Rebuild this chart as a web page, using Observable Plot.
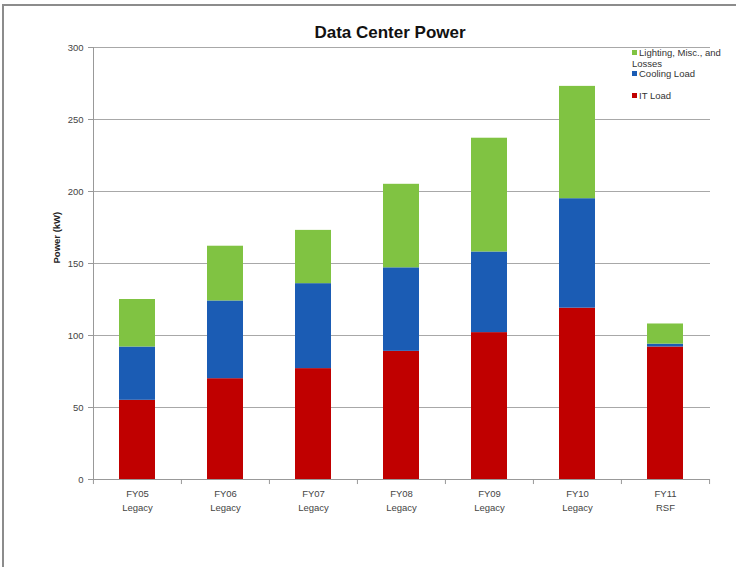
<!DOCTYPE html>
<html><head><meta charset="utf-8">
<script src="https://cdn.jsdelivr.net/npm/d3@7"></script>
<script src="https://cdn.jsdelivr.net/npm/@observablehq/plot@0.6"></script>
<style>
body{margin:0;background:#fff;font-family:"Liberation Sans",Arial,sans-serif;}
#wrap{position:relative;width:736px;height:567px;overflow:hidden;background:#fff}
#border{position:absolute;left:2px;top:4px;width:800px;height:700px;border-top:2px solid #8c8c8c;border-left:2px solid #8c8c8c;pointer-events:none}
#title{position:absolute;left:290px;width:200px;top:23px;text-align:center;font-weight:bold;font-size:17px;color:#111;white-space:nowrap}
#chart{position:absolute;left:0;top:0}
.leg{position:absolute;left:632px;font-size:9.5px;color:#333;line-height:11px}
.leg span.sw{display:inline-block;width:5px;height:5px;margin-right:2px;vertical-align:1px}
</style>
</head><body>
<div id="wrap">
<div id="chart"></div>
<div id="title">Data Center Power</div>
<div id="legend"></div>
<div id="border"></div>
</div>
<script>
const years = ["FY05","FY06","FY07","FY08","FY09","FY10","FY11"];
const sites = ["Legacy","Legacy","Legacy","Legacy","Legacy","Legacy","RSF"];
const itLoad = [55, 70, 77, 89, 102, 119, 92];
const coolingLoad = [37, 54, 59, 58, 56, 76, 2];
const lightingLoad = [33, 38, 37, 58, 79, 78, 14];
const seriesNames = ["IT Load", "Cooling Load", "Lighting, Misc., and Losses"];
const seriesColors = ["#c00000", "#1b5cb4", "#80c342"];
const yTicks = [0, 50, 100, 150, 200, 250, 300];

const categories = years.map((y, i) => y + "\n" + sites[i]);
const seriesValues = [itLoad, coolingLoad, lightingLoad];
const rows = [];
categories.forEach((c, i) => {
  seriesNames.forEach((s, j) => rows.push({cat: c, series: s, value: seriesValues[j][i]}));
});

const chart = Plot.plot({
  width: 736,
  height: 567,
  marginLeft: 93,
  marginRight: 26,
  marginTop: 47,
  marginBottom: 88,
  style: {fontFamily: "'Liberation Sans', Arial, sans-serif", background: "transparent"},
  x: {type: "band", domain: categories, paddingInner: 0.59, paddingOuter: 0.295, label: null},
  y: {domain: [0, 300], label: null},
  color: {domain: seriesNames, range: seriesColors},
  marks: [
    Plot.gridY(yTicks.filter(v => v > 0), {stroke: "#a8a8a8", strokeOpacity: 1, strokeWidth: 1}),
    Plot.barY(rows, {x: "cat", y: "value", fill: "series"}),
    Plot.ruleY([0], {stroke: "#999"}),
    Plot.frame({anchor: "left", stroke: "#999"}),
    Plot.ruleX(categories, {x: d => d, y1: 0, y2: -3.5, dx: -44.07, stroke: "#999"}),
    Plot.ruleX([categories[categories.length - 1]], {x: d => d, y1: 0, y2: -3.5, dx: 44.07, stroke: "#999"}),
    Plot.axisY({ticks: yTicks, tickSize: 5, tickPadding: 5, fontSize: 9.5, stroke: "#999", fill: "#444", label: null}),
    Plot.axisX({tickSize: 0, tickPadding: 8, fontSize: 9.5, lineHeight: 1.45, fill: "#444", label: null}),
    Plot.text(["Power (kW)"], {frameAnchor: "left", text: d => d, rotate: -90, dx: -37, fontWeight: "bold", fontSize: 9.5, fill: "#222"})
  ]
});
document.getElementById("chart").appendChild(chart);

// legend (top-right), listed top to bottom as in the reference
const legendTops = [47, 68, 90];
const legend = document.getElementById("legend");
[2, 1, 0].forEach((j, k) => {
  const d = document.createElement("div");
  d.className = "leg";
  d.style.top = legendTops[k] + "px";
  const label = j === 2 ? "Lighting, Misc., and<br>Losses" : seriesNames[j];
  d.innerHTML = `<span class="sw" style="background:${seriesColors[j]}"></span>${label}`;
  legend.appendChild(d);
});
</script>
</body></html>
